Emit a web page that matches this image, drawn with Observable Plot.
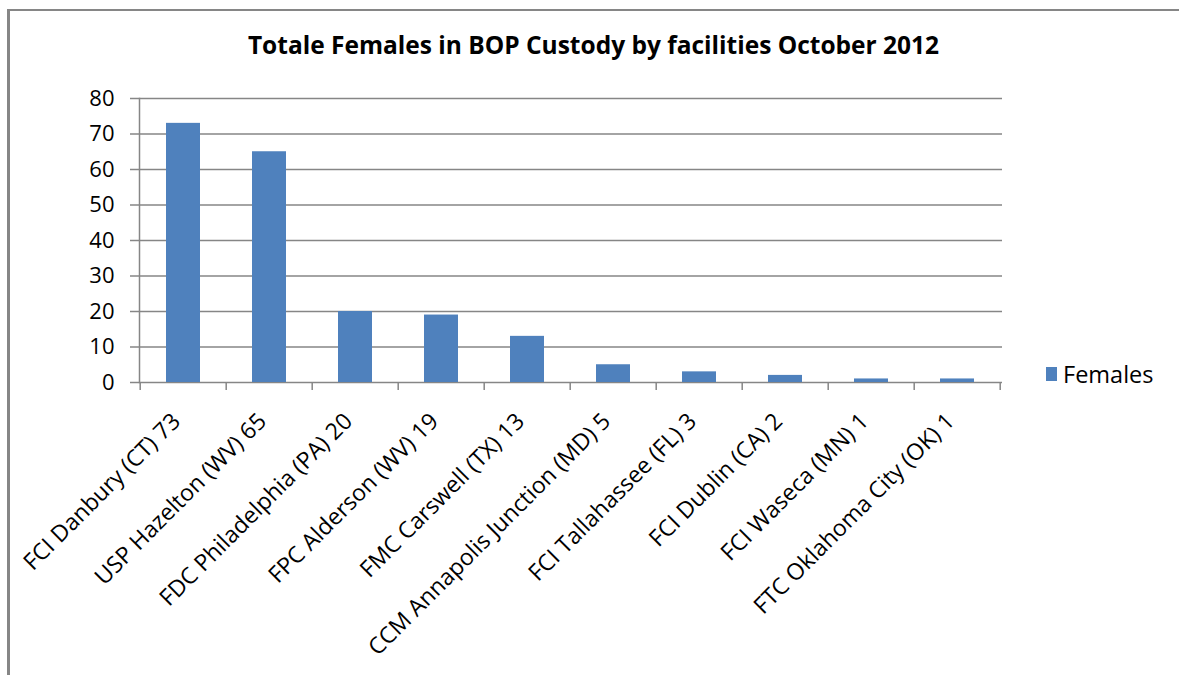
<!DOCTYPE html>
<html>
<head>
<meta charset="utf-8">
<script src="https://cdn.jsdelivr.net/npm/d3@7"></script>
<script src="https://cdn.jsdelivr.net/npm/@observablehq/plot@0.6"></script>
<style>
  html, body { margin: 0; padding: 0; background: #fff; }
  #wrap { position: relative; width: 1179px; height: 675px; overflow: hidden; font-family: "Open Sans", sans-serif; }
  #border { position: absolute; left: 7px; top: 9px; width: 1300px; height: 800px; border-left: 3px solid #868686; border-top: 2px solid #868686; }
  #title { position: absolute; left: 4px; top: 28px; width: 1179px; text-align: center; font-weight: bold; font-size: 24.5px; line-height: 34px; color: #000; }
  #chart { position: absolute; left: 0; top: 0; }
  #legend { position: absolute; left: 1046px; top: 358px; display: flex; align-items: center; font-size: 23.5px; color: #000; }
  #legend .sw { width: 11px; height: 14px; background: #4F81BD; margin-right: 6px; }
</style>
</head>
<body>
<div id="wrap">
  <div id="border"></div>
  <div id="chart"></div>
  <div id="title">Totale Females in BOP Custody by facilities October 2012</div>
  <div id="legend"><div class="sw"></div><span>Females</span></div>
</div>
<script>
const categories = [
  "FCI Danbury (CT) 73",
  "USP Hazelton (WV) 65",
  "FDC Philadelphia (PA) 20",
  "FPC Alderson (WV) 19",
  "FMC Carswell (TX) 13",
  "CCM Annapolis Junction (MD) 5",
  "FCI Tallahassee (FL) 3",
  "FCI Dublin (CA) 2",
  "FCI Waseca (MN) 1",
  "FTC Oklahoma City (OK) 1"
];
const females = [73, 65, 20, 19, 13, 5, 3, 2, 1, 1];
const yTicks = [0, 10, 20, 30, 40, 50, 60, 70, 80];

const data = categories.map((c, i) => ({facility: c, females: females[i]}));
const padIn = 0.6, padOut = 0.3;

function boundaryTicks(index, scales, values, dims) {
  const x = scales.x;
  const step = x(categories[1]) - x(categories[0]);
  const y0 = dims.height - dims.marginBottom;
  const pos = categories.map(c => x(c) - padOut * step);
  pos.push(x(categories[categories.length - 1]) + (1 - padOut) * step);
  const g = d3.create("svg:g").attr("stroke", "#868686").attr("stroke-width", 1.5);
  for (const p of pos) {
    g.append("line").attr("x1", p).attr("x2", p).attr("y1", y0).attr("y2", y0 + 8);
  }
  return g.node();
}

const chart = Plot.plot({
  width: 1179,
  height: 675,
  marginLeft: 139,
  marginRight: 177,
  marginTop: 98,
  marginBottom: 293,
  style: {fontFamily: "Open Sans, sans-serif", fontSize: "21px", color: "#000", background: "transparent", overflow: "visible"},
  x: {domain: categories, paddingInner: padIn, paddingOuter: padOut, label: null},
  y: {domain: [0, 80], label: null},
  marks: [
    Plot.gridY(yTicks, {stroke: "#868686", strokeOpacity: 1, strokeWidth: 1.5}),
    Plot.barY(data, {x: "facility", y: "females", fill: "#4F81BD"}),
    Plot.frame({anchor: "left", stroke: "#868686", strokeWidth: 1.5}),
    Plot.axisY(yTicks, {tickSize: 9, tickPadding: 16, stroke: "#868686", strokeWidth: 1.5, fill: "#000", fontSize: 22, label: null, tickFormat: d => String(d)}),
    Plot.axisX({tickSize: 0, tickRotate: -45, tickPadding: 10, dx: -7, dy: 25, fill: "#000", fontSize: 23, label: null}),
    boundaryTicks
  ]
});
document.getElementById("chart").appendChild(chart);
</script>
</body>
</html>
